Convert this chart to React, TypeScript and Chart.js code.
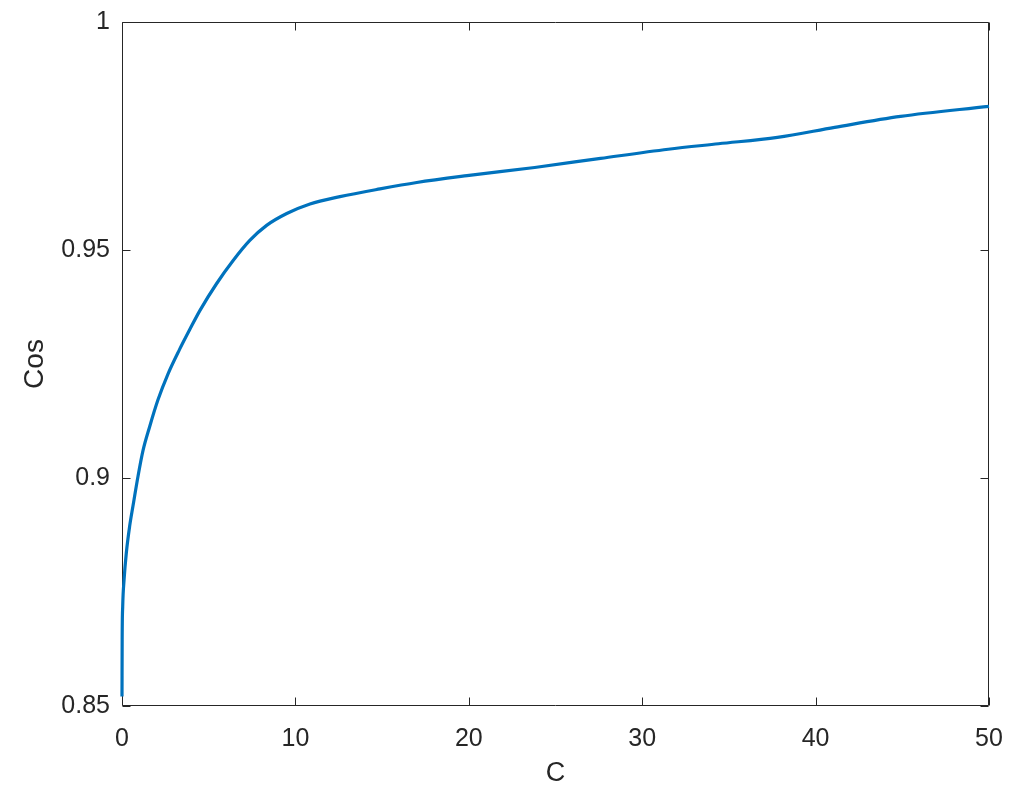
import React, { useEffect, useRef } from "react";
import { Chart, registerables } from "chart.js";

Chart.register(...registerables);

const cValues = [0, 0.01, 0.04, 0.12, 0.25, 0.44, 0.63, 0.924, 1.21, 1.59, 2.07, 2.65, 3.32, 3.9, 4.49, 5.45, 6.41, 7.37, 8.34, 9.5, 10.84, 12.57, 14.88, 17.0, 19.9, 23.8, 27.6, 31.5, 34.4, 37.8, 41.1, 44.9, 50];
const cosValues = [0.8521, 0.8645, 0.8718, 0.8777, 0.8836, 0.8894, 0.8938, 0.9004, 0.906, 0.9112, 0.9171, 0.9228, 0.9282, 0.9325, 0.9367, 0.9426, 0.9477, 0.9521, 0.9554, 0.958, 0.9601, 0.9617, 0.9634, 0.9648, 0.9663, 0.9681, 0.9701, 0.9721, 0.9733, 0.9747, 0.9769, 0.9793, 0.9815];
const xTicks = [0, 10, 20, 30, 40, 50];
const yTicks = [0.85, 0.9, 0.95, 1];
const xTitle = "C";
const yTitle = "Cos";

const AXIS = "#262626";
const FONT = "'Liberation Sans', Arial, Helvetica, sans-serif";

const boxPlugin = {
  id: "matlabBox",
  beforeDatasetsDraw(chart: any) {
    const { ctx, chartArea, scales } = chart;
    const { left, right, top, bottom } = chartArea;
    const L = Math.round(left) + 0.5;
    const R = Math.round(right) - 0.5;
    const T = Math.round(top) + 0.5;
    const B = Math.round(bottom) - 0.5;
    const tl = 8;
    ctx.save();
    ctx.strokeStyle = AXIS;
    ctx.lineWidth = 1;
    ctx.beginPath();
    ctx.rect(L, T, R - L, B - T);
    for (const v of xTicks) {
      const px = Math.round(scales.x.getPixelForValue(v)) + 0.5;
      ctx.moveTo(px, B);
      ctx.lineTo(px, B - tl);
      ctx.moveTo(px, T);
      ctx.lineTo(px, T + tl);
    }
    for (const v of yTicks) {
      const py = Math.round(scales.y.getPixelForValue(v)) + 0.5;
      ctx.moveTo(L, py);
      ctx.lineTo(L + tl, py);
      ctx.moveTo(R, py);
      ctx.lineTo(R - tl, py);
    }
    ctx.stroke();
    ctx.restore();
  },
};

export default function App() {
  const ref = useRef<HTMLCanvasElement | null>(null);
  useEffect(() => {
    if (!ref.current) return;
    const chart = new Chart(ref.current, {
      type: "line",
      data: {
        datasets: [
          {
            data: cValues.map((c, i) => ({ x: c, y: cosValues[i] })),
            borderColor: "#0072BD",
            borderWidth: 3.2,
            pointRadius: 0,
            fill: false,
            cubicInterpolationMode: "monotone",
            clip: false,
          },
        ],
      },
      options: {
        animation: false,
        responsive: false,
        devicePixelRatio: 1,
        layout: { padding: { top: 22, right: 28, left: 0, bottom: 0 } },
        plugins: { legend: { display: false }, tooltip: { enabled: false } },
        scales: {
          x: {
            type: "linear",
            min: 0,
            max: 50,
            grid: { display: false, drawTicks: false },
            border: { display: false },
            afterBuildTicks: (axis: any) => {
              axis.ticks = xTicks.map((v) => ({ value: v }));
            },
            afterFit: (axis: any) => {
              axis.height = 85;
              axis.paddingLeft = 0;
              axis.paddingRight = 0;
            },
            ticks: {
              color: AXIS,
              font: { family: FONT, size: 25 },
              padding: 18,
              maxRotation: 0,
              callback: (v: any) => String(v),
            },
            title: {
              display: true,
              text: xTitle,
              color: AXIS,
              font: { family: FONT, size: 27 },
              padding: { top: 0, bottom: 1 },
            },
          },
          y: {
            type: "linear",
            min: 0.85,
            max: 1,
            grid: { display: false, drawTicks: false },
            border: { display: false },
            afterBuildTicks: (axis: any) => {
              axis.ticks = yTicks.map((v) => ({ value: v }));
            },
            afterFit: (axis: any) => {
              axis.width = 122;
              axis.paddingTop = 0;
              axis.paddingBottom = 0;
            },
            ticks: {
              color: AXIS,
              font: { family: FONT, size: 25 },
              padding: 12,
              callback: (v: any) => String(Number(Number(v).toFixed(2))),
            },
            title: {
              display: true,
              text: yTitle,
              color: AXIS,
              font: { family: FONT, size: 28 },
              padding: { top: 18, bottom: 0 },
            },
          },
        },
      },
      plugins: [boxPlugin],
    } as any);
    return () => chart.destroy();
  }, []);
  return (
    <div style={{ position: "fixed", left: 0, top: 0, width: 1017, height: 791, background: "#fff" }}>
      <canvas ref={ref} width={1017} height={791} style={{ display: "block" }} />
    </div>
  );
}
